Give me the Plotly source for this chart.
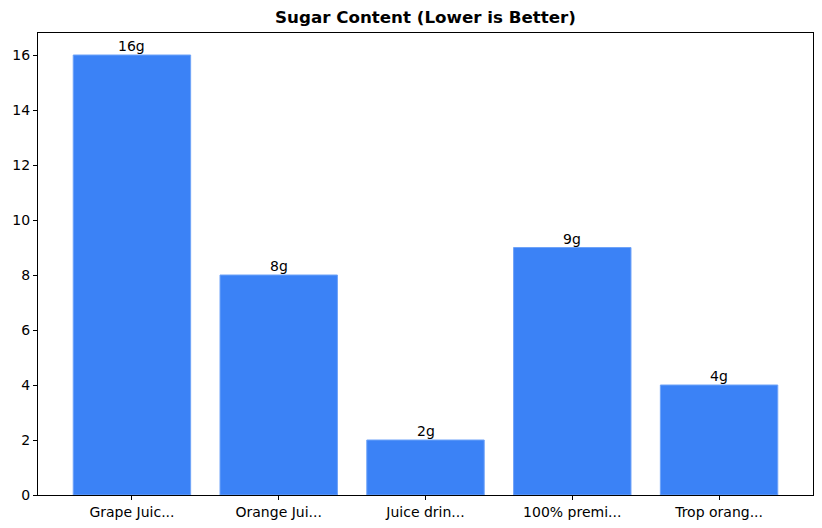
import plotly.graph_objects as go

categories = ["Grape Juic...", "Orange Jui...", "Juice drin...", "100% premi...", "Trop orang..."]
sugar = [16, 8, 2, 9, 4]
labels = ["16g", "8g", "2g", "9g", "4g"]

font = "DejaVu Sans"
fig = go.Figure()
fig.add_trace(go.Bar(
    x=list(range(len(categories))), y=sugar, width=0.8,
    marker=dict(color="#3b82f6", line=dict(color="#6fa3f8", width=1)),
    hoverinfo="skip",
))
for i, (v, t) in enumerate(zip(sugar, labels)):
    fig.add_annotation(x=i, y=v, text=t, showarrow=False, yanchor="bottom",
                       yshift=-1, font=dict(family=font, size=14, color="black"))

fig.update_layout(
    width=822, height=528,
    margin=dict(l=30, r=17, t=25, b=41),
    paper_bgcolor="white", plot_bgcolor="white",
    showlegend=False,
    title=dict(text="<b>Sugar Content (Lower is Better)</b>", x=(30 + 822 - 17) / 2 / 822,
               xanchor="center", y=1 - 9 / 528, yanchor="middle",
               font=dict(family=font, size=16.7, color="black")),
    font=dict(family=font, size=14, color="black"),
)
fig.update_xaxes(
    range=[-0.64, 4.64], tickmode="array", tickvals=list(range(len(categories))),
    ticktext=categories, showgrid=False, zeroline=False, automargin=False,
    showline=True, linecolor="black", linewidth=1, mirror=True,
    ticks="outside", ticklen=4, tickcolor="black",
)
fig.update_yaxes(
    range=[0, 16.8], tickvals=[0, 2, 4, 6, 8, 10, 12, 14, 16],
    showgrid=False, zeroline=False, automargin=False,
    showline=True, linecolor="black", linewidth=1, mirror=True,
    ticks="outside", ticklen=4, tickcolor="black",
)
fig.write_html("out.html")
